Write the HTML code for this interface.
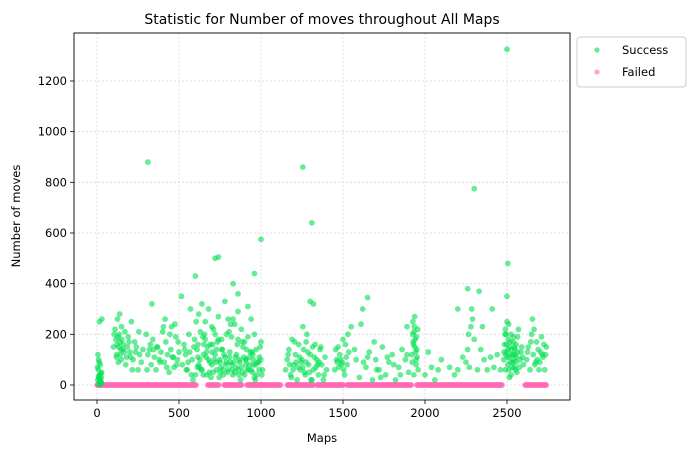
<!DOCTYPE html>
<html><head><meta charset="utf-8"><style>
body{margin:0;background:#fff;font-family:"DejaVu Sans","Liberation Sans",sans-serif;}
</style></head><body>
<svg id="chart" width="692" height="455" style="display:block"></svg>
<script>
const xTicks=[0,500,1000,1500,2000,2500];
const yTicks=[0,200,400,600,800,1000,1200];
const failedRanges=[[0,605],[675,745],[775,885],[915,1120],[1160,1320],[1340,1505],[1525,1920],[1950,2470],[2610,2670],[2680,2740]];
const successPoints=[
[5,20],[8,60],[10,100],[12,30],[14,10],[15,250],[18,40],[20,80],[22,15],[25,5],[28,50],[30,260],[3,70],[6,120],[9,35],[16,25],[24,45],[27,10],[11,0],[19,20],[26,30],[13,90],
[100,150],[110,220],[115,180],[120,120],[125,260],[130,90],[135,200],[140,170],[145,140],[150,230],[160,160],[170,210],[180,110],[190,190],[200,130],[210,250],[220,100],[230,170],[240,150],[250,60],[260,120],[105,200],[118,110],[128,190],[138,280],[148,100],[158,140],[175,80],[195,170],[215,60],[235,130],[255,210],[270,90],[280,140],[132,150],[142,120],[152,180],[122,160],[165,130],[185,150],[205,110],
[300,200],[310,120],[320,140],[330,80],[340,180],[350,110],[360,60],[370,150],[380,100],[390,130],[400,210],[410,90],[420,170],[430,120],[440,50],[450,140],[460,110],[470,70],[480,190],[490,100],[500,130],[305,60],[325,160],[345,140],[365,150],[385,90],[405,230],[425,70],[445,200],[465,110],[485,80],[495,170],[455,230],[475,240],[415,260],[335,320],[515,350],
[520,80],[530,160],[540,120],[550,60],[560,200],[570,300],[580,100],[590,150],[600,40],[610,140],[620,80],[630,210],[640,60],[650,120],[660,180],[670,40],[680,100],[690,160],[700,80],[710,220],[720,120],[730,60],[740,180],[750,90],[760,140],[770,40],[780,110],[790,200],[800,60],[810,130],[820,80],[830,260],[840,50],[850,120],[860,180],[870,90],[880,70],[890,150],[900,40],[910,100],[920,190],[930,80],[940,60],[950,120],[960,30],[970,140],[980,90],[990,110],[1000,170],[1010,60],
[535,140],[555,90],[575,40],[595,180],[615,110],[635,60],[655,200],[675,150],[695,30],[715,100],[735,170],[755,70],[775,120],[795,50],[815,240],[835,90],[855,160],[875,20],[895,110],[915,60],[935,130],[955,80],[975,40],[995,150],[545,60],[565,130],[585,20],[605,250],[625,70],[645,190],[665,110],[685,50],[705,160],[725,90],[745,30],[765,140],[785,80],[805,210],[825,60],[845,110],[865,40],[885,170],[905,100],[925,60],[945,130],[965,20],[985,90],
[620,280],[640,320],[660,250],[680,300],[700,230],[720,200],[740,270],[760,180],[780,330],[800,260],[820,190],[840,240],[860,290],[880,220],[900,170],[920,310],[940,260],[960,200],
[612,70],[628,100],[648,40],[668,130],[688,90],[708,50],[728,140],[748,100],[768,60],[788,90],[808,110],[828,40],[848,70],[868,100],[888,50],[908,80],[928,110],[948,50],[968,80],[988,60],[1005,40],[616,160],[652,160],[702,130],[752,50],[812,90],[862,60],[912,140],[952,100],[999,100],
[1150,60],[1160,100],[1170,140],[1180,40],[1190,180],[1200,80],[1210,120],[1220,20],[1230,160],[1240,60],[1250,100],[1260,140],[1270,40],[1280,200],[1290,80],[1300,120],[1310,20],[1320,60],[1330,160],[1340,100],[1350,40],[1360,140],[1370,80],[1380,20],[1390,110],[1400,60],[1165,120],[1185,30],[1205,170],[1225,70],[1245,90],[1265,50],[1285,130],[1305,20],[1325,110],[1345,80],[1365,150],[1385,40],[1175,80],[1195,60],[1215,90],[1235,110],[1255,70],[1275,90],[1295,50],[1315,150],[1335,70],[1355,90],[1255,230],[1275,170],[1320,320],[1300,330],
[1450,60],[1460,100],[1470,150],[1480,120],[1490,80],[1500,180],[1510,40],[1520,110],[1530,200],[1455,140],[1475,70],[1495,90],[1515,160],[1535,130],[1485,100],[1505,60],[1465,90],[1525,80],
[1600,30],[1620,300],[1640,70],[1660,130],[1680,20],[1700,100],[1720,60],[1740,150],[1760,40],[1780,90],[1800,120],[1820,20],[1840,70],[1860,140],[1880,100],[1900,50],[1610,240],[1650,110],[1690,170],[1730,30],[1770,110],[1810,80],[1850,40],[1890,120],[1580,100],[1570,140],[1625,90],[1705,60],
[1920,120],[1925,200],[1930,160],[1935,230],[1940,180],[1945,100],[1950,140],[1955,220],[1922,90],[1928,170],[1933,210],[1938,150],[1943,130],[1948,190],[1952,110],[1958,60],[1926,250],[1937,270],[1946,80],[1932,40],
[2000,40],[2020,130],[2040,70],[2060,20],[2080,60],[2100,100],[2150,70],[2180,40],[2200,60],[2230,110],[2250,90],[2260,140],[2270,70],[2280,230],[2290,260],[2300,180],[2320,60],[2340,140],[2360,100],[2380,60],[2400,110],[2420,70],[2440,120],[2460,60],[2265,200],[2285,300],[2330,370],[2410,300],[2200,300],[2350,230],
[2480,100],[2485,160],[2490,60],[2495,200],[2500,130],[2505,80],[2510,240],[2515,110],[2520,170],[2525,40],[2530,140],[2535,90],[2540,190],[2545,70],[2550,120],[2555,160],[2560,50],[2570,220],[2580,100],[2590,150],[2600,80],[2482,130],[2488,200],[2492,120],[2498,160],[2502,110],[2508,180],[2512,60],[2518,150],[2522,90],[2528,120],[2532,70],[2538,170],[2542,100],[2548,140],[2552,60],[2558,110],[2565,190],[2575,70],[2585,130],[2595,110],[2505,140],[2515,30],[2525,200],[2535,120],[2545,150],[2555,90],[2565,130],[2490,220],[2500,250],
[2620,100],[2630,150],[2640,60],[2650,200],[2660,120],[2670,80],[2680,170],[2690,140],[2700,90],[2710,190],[2720,110],[2730,60],[2740,150],[2625,130],[2645,170],[2665,220],[2685,100],[2705,130],[2725,160],[2735,120],[2655,260],[2675,90],[2695,60],[2715,120],
[310,880],[1000,575],[1255,860],[1310,640],[2300,775],[2500,1325],[2505,480],[720,500],[740,505],[600,430],[960,440],[830,400],[860,360],[2500,350],[1650,345],[2260,380],[1550,230],[1890,230]];

const svg=document.getElementById('chart');
const NS='http://www.w3.org/2000/svg';
const L=74,R=570,T=33,B=400;
const x=v=>97+v*(507-97)/2500;
const y=v=>385-v*(385-81)/1200;
function el(tag,attrs,parent){const e=document.createElementNS(NS,tag);for(const k in attrs)e.setAttribute(k,attrs[k]);(parent||svg).appendChild(e);return e;}
const grid=el('g',{});


xTicks.forEach(t=>{el('line',{x1:x(t),x2:x(t),y1:T,y2:B,stroke:'#d8d8d8','stroke-width':0.8,'stroke-dasharray':'2,2'},grid);});
yTicks.forEach(t=>{el('line',{x1:L,x2:R,y1:y(t),y2:y(t),stroke:'#d8d8d8','stroke-width':0.8,'stroke-dasharray':'2,2'},grid);});
const fg=el('g',{fill:'#ff69b4','fill-opacity':0.6});


failedRanges.forEach(r=>{for(let v=r[0];v<=r[1];v+=4){const c=el('circle',{cx:x(v),cy:y(0),r:2.9},fg);

}});
const sg=el('g',{fill:'#00e050','fill-opacity':0.6});


successPoints.forEach(p=>{const c=el('circle',{cx:x(p[0]),cy:y(p[1]),r:2.9},sg);

});
const fr=el('rect',{x:L,y:T,width:R-L,height:B-T,fill:'none',stroke:'#000','stroke-width':0.9});


xTicks.forEach(t=>{el('line',{x1:x(t),x2:x(t),y1:B,y2:B+4,stroke:'#000','stroke-width':0.8});
const tx=el('text',{x:x(t),y:B+17,'text-anchor':'middle','font-size':11.5});tx.textContent=t;

});
yTicks.forEach(t=>{el('line',{x1:L-4,x2:L,y1:y(t),y2:y(t),stroke:'#000','stroke-width':0.8});
const tx=el('text',{x:L-7,y:y(t)+4,'text-anchor':'end','font-size':11.5});tx.textContent=t;

});
const title=el('text',{x:322,y:24,'text-anchor':'middle','font-size':14});title.textContent='Statistic for Number of moves throughout All Maps';


const xt=el('text',{x:322,y:442,'text-anchor':'middle','font-size':11.5});xt.textContent='Maps';


const yt=el('text',{x:0,y:0,'text-anchor':'middle','font-size':11.5,transform:'translate(20,216) rotate(-90)'});yt.textContent='Number of moves';


const lg=el('g',{});


el('rect',{x:577,y:37,width:109,height:50,rx:3,fill:'#fff',stroke:'#ccc'},lg);
el('circle',{cx:597,cy:50,r:2.6,fill:'#00e050','fill-opacity':0.6},lg);
el('circle',{cx:597,cy:72,r:2.6,fill:'#ff69b4','fill-opacity':0.6},lg);
const l1=el('text',{x:622,y:54,'font-size':11.5},lg);l1.textContent='Success';


const l2=el('text',{x:622,y:76,'font-size':11.5},lg);l2.textContent='Failed';


</script>
</body></html>
